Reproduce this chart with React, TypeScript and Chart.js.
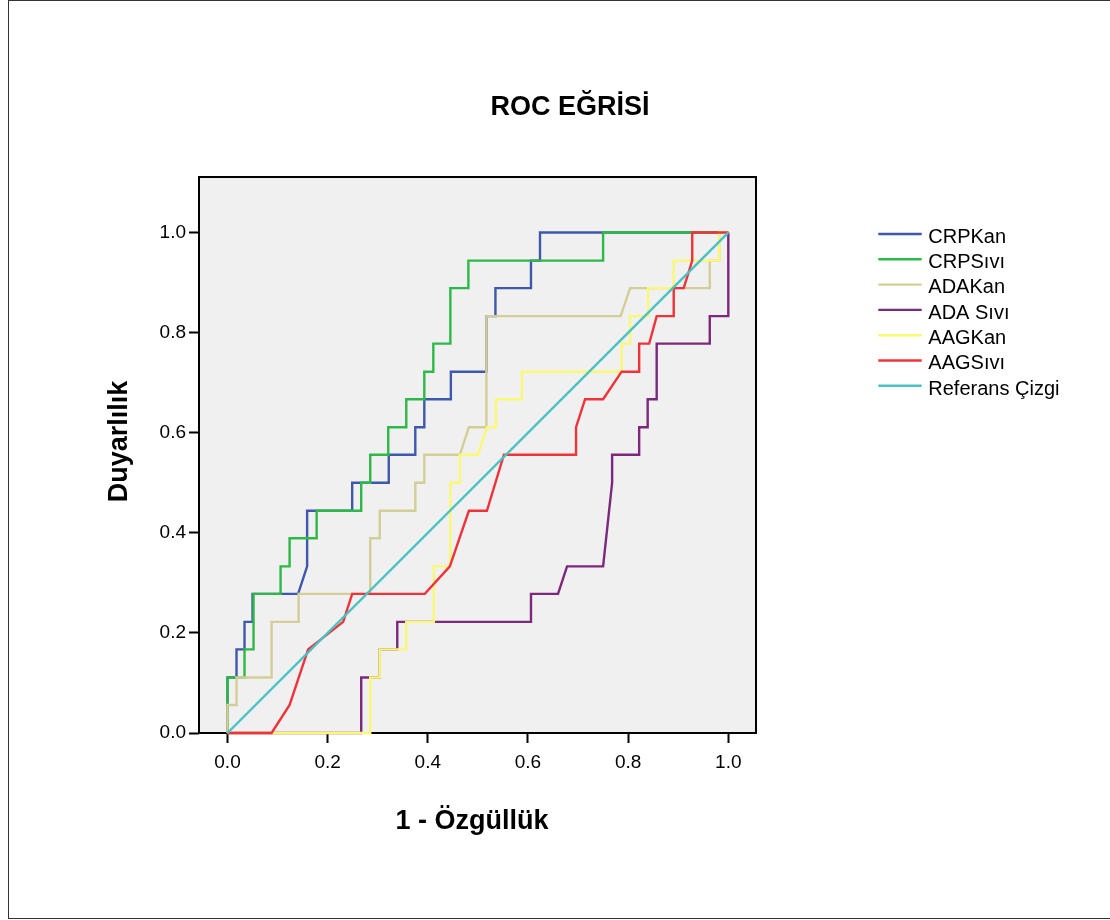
import React, { useEffect, useRef } from "react";
import { Chart, registerables } from "chart.js";

Chart.register(...registerables);

const chartTitle = "ROC EĞRİSİ";
const xAxisTitle = "1 - Özgüllük";
const yAxisTitle = "Duyarlılık";

const seriesNames = ["CRPKan", "CRPSıvı", "ADAKan", "ADA Sıvı", "AAGKan", "AAGSıvı", "Referans Çizgi"];
const seriesColors = ["#3E58AC", "#2EB848", "#D3CE97", "#7C287D", "#FBF873", "#EF3338", "#48C2C5"];

const xTicks = [0, 0.2, 0.4, 0.6, 0.8, 1.0];
const yTicks = [0, 0.2, 0.4, 0.6, 0.8, 1.0];

const crpKan: number[][] = [
  [0, 0], [0, 0.111], [0.018, 0.111], [0.018, 0.167], [0.034, 0.167], [0.034, 0.222], [0.05, 0.222], [0.05, 0.278],
  [0.141, 0.278], [0.159, 0.333], [0.159, 0.444], [0.249, 0.444], [0.249, 0.5], [0.322, 0.5], [0.322, 0.556],
  [0.375, 0.556], [0.375, 0.611], [0.393, 0.611], [0.393, 0.667], [0.446, 0.667], [0.446, 0.722], [0.517, 0.722],
  [0.517, 0.833], [0.535, 0.833], [0.535, 0.889], [0.606, 0.889], [0.606, 0.944], [0.624, 0.944], [0.624, 1], [1, 1],
];

const crpSivi: number[][] = [
  [0, 0], [0, 0.111], [0.034, 0.111], [0.034, 0.167], [0.052, 0.167], [0.052, 0.278], [0.106, 0.278], [0.106, 0.333],
  [0.124, 0.333], [0.124, 0.389], [0.178, 0.389], [0.178, 0.444], [0.267, 0.444], [0.267, 0.5], [0.285, 0.5],
  [0.285, 0.556], [0.321, 0.556], [0.321, 0.611], [0.357, 0.611], [0.357, 0.667], [0.393, 0.667], [0.393, 0.722],
  [0.411, 0.722], [0.411, 0.778], [0.445, 0.778], [0.445, 0.889], [0.481, 0.889], [0.481, 0.944], [0.75, 0.944],
  [0.75, 1], [1, 1],
];

const adaKan: number[][] = [
  [0, 0], [0, 0.056], [0.018, 0.056], [0.018, 0.111], [0.088, 0.111], [0.088, 0.222], [0.142, 0.222], [0.142, 0.278],
  [0.285, 0.278], [0.285, 0.389], [0.304, 0.389], [0.304, 0.444], [0.375, 0.444], [0.375, 0.5], [0.393, 0.5],
  [0.393, 0.556], [0.464, 0.556], [0.482, 0.611], [0.517, 0.611], [0.517, 0.833], [0.785, 0.833], [0.804, 0.889],
  [0.963, 0.889], [0.963, 0.944], [0.982, 0.944], [0.982, 1], [1, 1],
];

const adaSivi: number[][] = [
  [0, 0], [0.267, 0], [0.267, 0.111], [0.304, 0.111], [0.304, 0.167], [0.339, 0.167], [0.339, 0.222], [0.606, 0.222],
  [0.606, 0.278], [0.66, 0.278], [0.678, 0.333], [0.75, 0.333], [0.768, 0.5], [0.768, 0.556], [0.822, 0.556],
  [0.822, 0.611], [0.839, 0.611], [0.839, 0.667], [0.857, 0.667], [0.857, 0.778], [0.963, 0.778], [0.963, 0.833],
  [1, 0.833], [1, 1],
];

const aagKan: number[][] = [
  [0, 0], [0.285, 0], [0.285, 0.111], [0.304, 0.111], [0.304, 0.167], [0.357, 0.167], [0.357, 0.222], [0.412, 0.222],
  [0.412, 0.333], [0.445, 0.333], [0.445, 0.5], [0.464, 0.5], [0.464, 0.556], [0.5, 0.556], [0.518, 0.611],
  [0.536, 0.611], [0.536, 0.667], [0.588, 0.667], [0.588, 0.722], [0.787, 0.722], [0.787, 0.778], [0.804, 0.778],
  [0.804, 0.833], [0.84, 0.833], [0.84, 0.889], [0.891, 0.889], [0.891, 0.944], [0.982, 0.944], [0.982, 1], [1, 1],
];

const aagSivi: number[][] = [
  [0, 0], [0.088, 0], [0.124, 0.056], [0.161, 0.167], [0.231, 0.222], [0.249, 0.278], [0.394, 0.278], [0.444, 0.333],
  [0.482, 0.444], [0.518, 0.444], [0.552, 0.556], [0.696, 0.556], [0.696, 0.611], [0.714, 0.667], [0.75, 0.667],
  [0.787, 0.722], [0.822, 0.722], [0.822, 0.778], [0.842, 0.778], [0.857, 0.833], [0.891, 0.833], [0.891, 0.889],
  [0.911, 0.889], [0.928, 0.944], [0.928, 1], [1, 1],
];

const referans: number[][] = [[0, 0], [1, 1]];

const allSeries = [crpKan, crpSivi, adaKan, adaSivi, aagKan, aagSivi, referans];

const FONT = "'Liberation Sans', Arial, Helvetica, sans-serif";
const LINE_W = 2.4;

const decorPlugin = {
  id: "decor",
  beforeDraw(chart: any) {
    const { ctx, chartArea: a } = chart;
    ctx.save();
    ctx.fillStyle = "#F0F0F0";
    ctx.fillRect(a.left, a.top, a.right - a.left, a.bottom - a.top);
    ctx.restore();
  },
  beforeDatasetsDraw(chart: any) {
    const { ctx, chartArea: a } = chart;
    ctx.save();
    ctx.strokeStyle = "#000";
    ctx.lineWidth = 2;
    ctx.strokeRect(a.left, a.top, a.right - a.left, a.bottom - a.top);
    ctx.restore();
  },
  afterDraw(chart: any) {
    const { ctx } = chart;
    ctx.save();
    ctx.fillStyle = "#000";
    ctx.textBaseline = "alphabetic";
    ctx.font = `bold 27px ${FONT}`;
    ctx.textAlign = "center";
    ctx.fillText(chartTitle, 561, 113.5);
    ctx.fillText(xAxisTitle, 463, 827.7);
    ctx.save();
    ctx.translate(118, 440.5);
    ctx.rotate(-Math.PI / 2);
    ctx.fillText(yAxisTitle, 0, 0);
    ctx.restore();

    // legend from datasets
    const ds = chart.data.datasets;
    ctx.font = `20px ${FONT}`;
    ctx.textAlign = "left";
    for (let i = 0; i < ds.length; i++) {
      const y = 233 + i * 25.3;
      ctx.strokeStyle = ds[i].borderColor;
      ctx.lineWidth = LINE_W;
      ctx.beginPath();
      ctx.moveTo(869.3, y);
      ctx.lineTo(912.7, y);
      ctx.stroke();
      ctx.fillStyle = "#000";
      ctx.fillText(ds[i].label, 919.3, y + 8.7);
    }
    ctx.restore();
  },
};

export default function App() {
  const ref = useRef<HTMLCanvasElement | null>(null);

  useEffect(() => {
    if (!ref.current) return;
    const n = allSeries.length;
    const chart = new Chart(ref.current, {
      type: "line",
      data: {
        datasets: allSeries.map((s, i) => ({
          label: seriesNames[i],
          data: s.map(([x, y]) => ({ x, y })),
          borderColor: seriesColors[i],
          backgroundColor: seriesColors[i],
          borderWidth: LINE_W,
          pointRadius: 0,
          pointHoverRadius: 0,
          tension: 0,
          fill: false,
          clip: false as any,
          order: n - i,
        })),
      },
      options: {
        animation: false,
        responsive: false,
        devicePixelRatio: 1,
        layout: { padding: { left: 90, right: 353, top: 176, bottom: 124 } },
        plugins: {
          legend: { display: false },
          title: { display: false },
          tooltip: { enabled: false },
        },
        scales: {
          x: {
            type: "linear",
            min: -0.0569,
            max: 1.0553,
            afterFit: (s: any) => { s.height = 60; },
            afterBuildTicks: (s: any) => { s.ticks = xTicks.map((v) => ({ value: v })); },
            grid: { display: true, drawOnChartArea: false, drawTicks: true, tickLength: 10, tickWidth: 2, tickColor: "#000" },
            border: { display: false },
            ticks: {
              color: "#000",
              padding: 8,
              maxRotation: 0,
              font: { family: FONT, size: 19 },
              callback: (v: any) => Number(v).toFixed(1),
            },
          },
          y: {
            type: "linear",
            min: 0,
            max: 1.111,
            afterFit: (s: any) => { s.width = 100; },
            afterBuildTicks: (s: any) => { s.ticks = yTicks.map((v) => ({ value: v })); },
            grid: { display: true, drawOnChartArea: false, drawTicks: true, tickLength: 10, tickWidth: 2, tickColor: "#000" },
            border: { display: false },
            ticks: {
              color: "#000",
              padding: 3,
              font: { family: FONT, size: 19 },
              callback: (v: any) => Number(v).toFixed(1),
            },
          },
        },
      },
      plugins: [decorPlugin],
    });
    return () => chart.destroy();
  }, []);

  return (
    <div
      style={{
        position: "absolute",
        left: 8,
        top: 0,
        width: 1102,
        height: 919,
        boxSizing: "border-box",
        borderLeft: "1px solid #333",
        borderTop: "1px solid #333",
        borderBottom: "1px solid #333",
        background: "#fff",
      }}
    >
      <canvas ref={ref} width={1100} height={916} style={{ display: "block" }} />
    </div>
  );
}
